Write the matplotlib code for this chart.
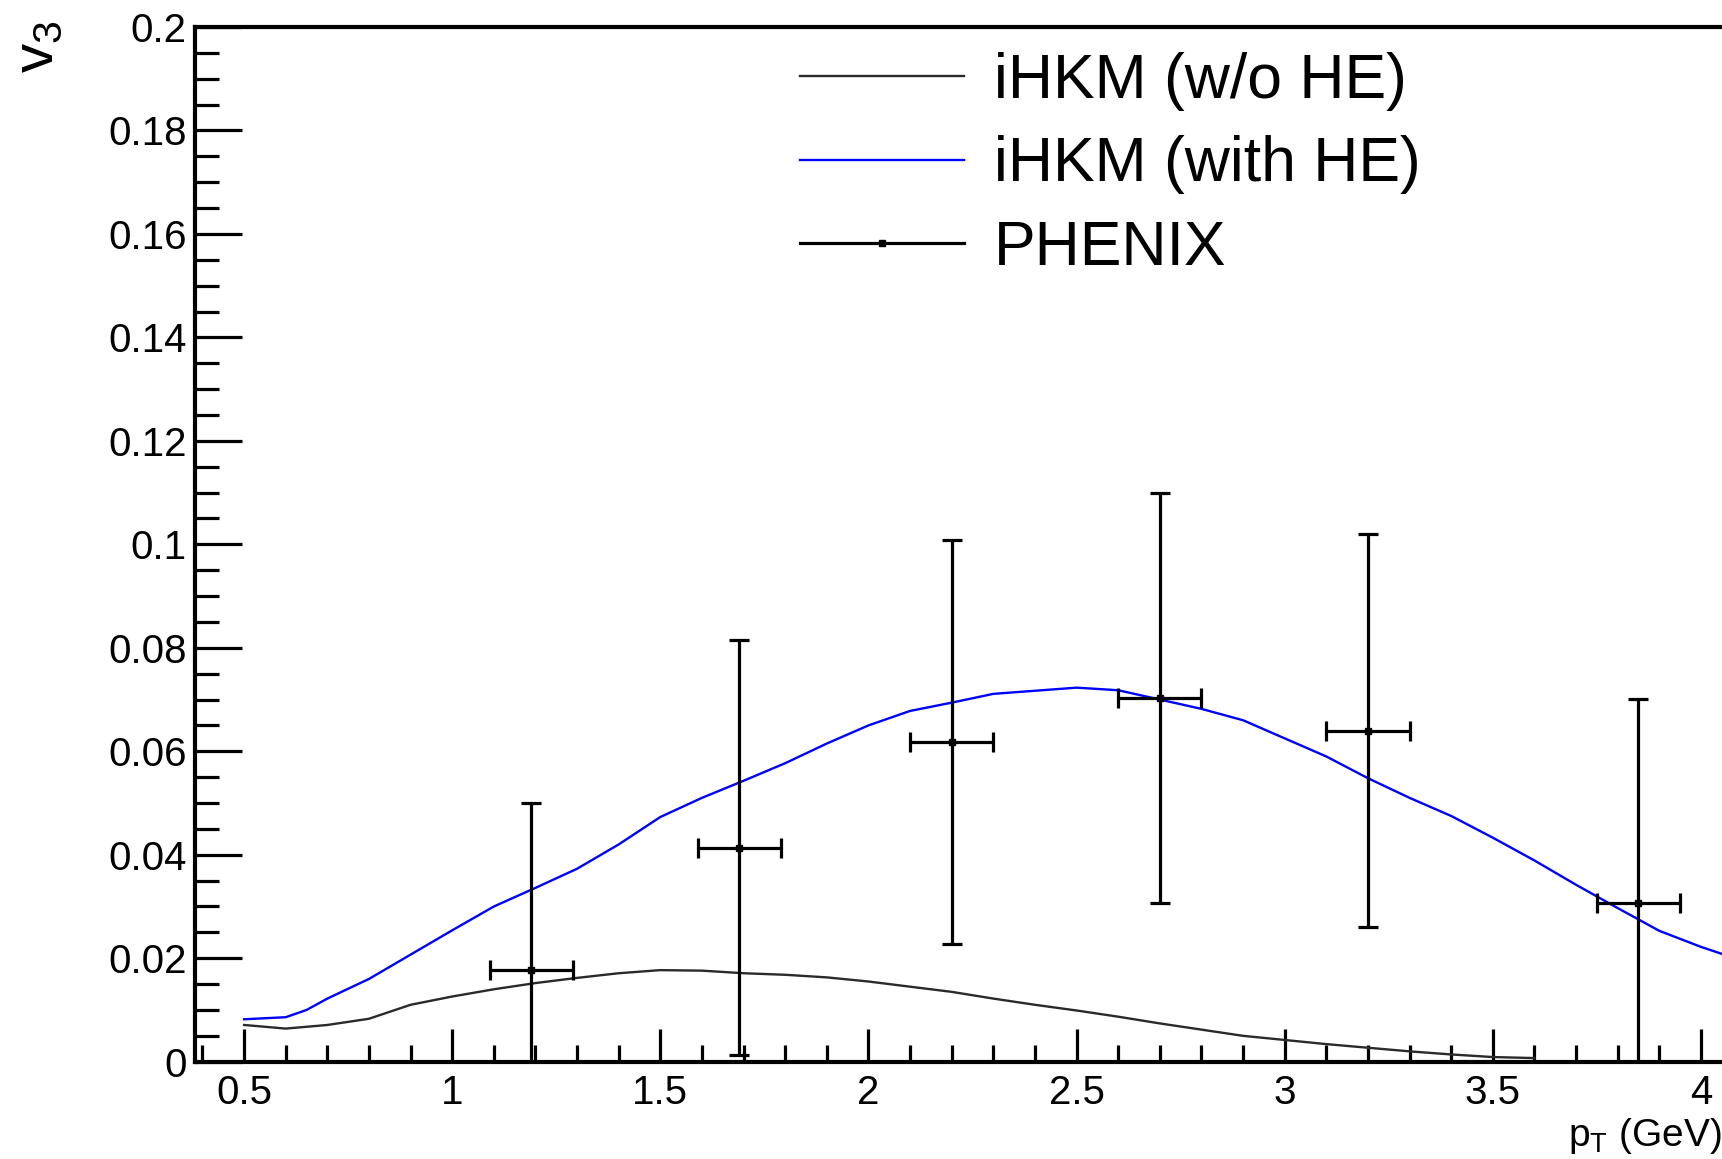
import matplotlib
matplotlib.use("Agg")
import matplotlib.pyplot as plt
from matplotlib.lines import Line2D
from matplotlib.ticker import MultipleLocator

plt.rcParams['font.family'] = ['Liberation Sans', 'DejaVu Sans']
plt.rcParams['mathtext.fontset'] = 'custom'
plt.rcParams['mathtext.rm'] = 'Liberation Sans'
plt.rcParams['mathtext.it'] = 'Liberation Sans:italic'

# iHKM curves
pt_with = [0.5, 0.6, 0.65, 0.7, 0.8, 0.9, 1.0, 1.1, 1.2, 1.3, 1.4, 1.5, 1.6, 1.7,
           1.8, 1.9, 2.0, 2.1, 2.2, 2.3, 2.4, 2.5, 2.6, 2.7, 2.8, 2.9, 3.0, 3.1,
           3.2, 3.3, 3.4, 3.5, 3.6, 3.7, 3.8, 3.9, 4.0, 4.1]
v3_with = [0.0082, 0.0086, 0.0100, 0.0122, 0.0160, 0.0207, 0.0254, 0.0300, 0.0336,
           0.0373, 0.0420, 0.0473, 0.0510, 0.0543, 0.0577, 0.0615, 0.0650, 0.0678,
           0.0694, 0.0711, 0.0717, 0.0723, 0.0718, 0.0700, 0.0682, 0.0660, 0.0625,
           0.0590, 0.0548, 0.0510, 0.0475, 0.0433, 0.0389, 0.0342, 0.0297, 0.0253,
           0.0222, 0.0195]

pt_wo = [0.5, 0.6, 0.7, 0.8, 0.9, 1.0, 1.1, 1.2, 1.3, 1.4, 1.5, 1.6, 1.7, 1.8, 1.9,
         2.0, 2.1, 2.2, 2.3, 2.4, 2.5, 2.6, 2.7, 2.8, 2.9, 3.0, 3.1, 3.2, 3.3, 3.4,
         3.5, 3.6]
v3_wo = [0.0071, 0.0064, 0.0071, 0.0083, 0.0110, 0.0126, 0.0140, 0.0152, 0.0162,
         0.0171, 0.0177, 0.0176, 0.0171, 0.0168, 0.0163, 0.0155, 0.0145, 0.0135,
         0.0122, 0.0110, 0.0099, 0.0087, 0.0074, 0.0062, 0.0050, 0.0042, 0.0034,
         0.0027, 0.0020, 0.0014, 0.0009, 0.0007]

# PHENIX data
pt_data = [1.19, 1.69, 2.2, 2.7, 3.2, 3.85]
v3_data = [0.0178, 0.0414, 0.0618, 0.0703, 0.0640, 0.0307]
v3_err = [0.0322, 0.0402, 0.0391, 0.0396, 0.0380, 0.0395]
pt_err = [0.1, 0.1, 0.1, 0.1, 0.1, 0.1]

W, H = 1722, 1159
fig = plt.figure(figsize=(W / 100, H / 100), dpi=100)
ax = fig.add_axes([195 / W, 1 - 1061.7 / H, 1714 / W, (1061.7 - 27) / H])

l1, = ax.plot(pt_wo, v3_wo, color='#2a2a2a', lw=1.7)
l2, = ax.plot(pt_with, v3_with, color='#0000ff', lw=1.7)
ax.errorbar(pt_data, v3_data, yerr=v3_err, xerr=pt_err, fmt='s', color='black',
            ms=5, elinewidth=2.3, capsize=7, capthick=2.3)

ax.set_xlim(0.382, 4.5)
ax.set_ylim(0, 0.2)

ax.xaxis.set_minor_locator(MultipleLocator(0.1))
ax.yaxis.set_minor_locator(MultipleLocator(0.005))
ax.set_xticks([0.5, 1, 1.5, 2, 2.5, 3, 3.5, 4])
ax.set_xticklabels(['0.5', '1', '1.5', '2', '2.5', '3', '3.5', '4'])
ax.set_yticks([0, 0.02, 0.04, 0.06, 0.08, 0.1, 0.12, 0.14, 0.16, 0.18, 0.2])
ax.set_yticklabels(['0', '0.02', '0.04', '0.06', '0.08', '0.1', '0.12', '0.14',
                    '0.16', '0.18', '0.2'])

ax.tick_params(axis='both', which='both', direction='in', width=2.3,
               labelsize=29, top=False, right=False)
ax.tick_params(axis='y', which='major', length=34, pad=6)
ax.tick_params(axis='y', which='minor', length=17)
ax.tick_params(axis='x', which='major', length=24, pad=9)
ax.tick_params(axis='x', which='minor', length=12)
for s in ax.spines.values():
    s.set_linewidth(3)

fig.text(38 / W, 1 - 20 / H, r'$\mathrm{v_{3}}$', rotation=90, fontsize=42,
         ha='center', va='top')
fig.text(1.0, 1 - 1116 / H, r'$\mathrm{p_{T}}$ (GeV)', fontsize=28,
         ha='right', va='top')

h3 = Line2D([], [], color='black', lw=2.3, marker='s', ms=5)
ax.legend([l1, l2, h3], ['iHKM (w/o HE)', 'iHKM (with HE)', 'PHENIX'],
          loc='upper left', bbox_to_anchor=(800 / W, 1 - 52 / H),
          bbox_transform=fig.transFigure, frameon=False, fontsize=45,
          handlelength=2.62, handletextpad=0.48, labelspacing=0.39,
          borderpad=0, borderaxespad=0)

fig.savefig('out.png', dpi=100)
